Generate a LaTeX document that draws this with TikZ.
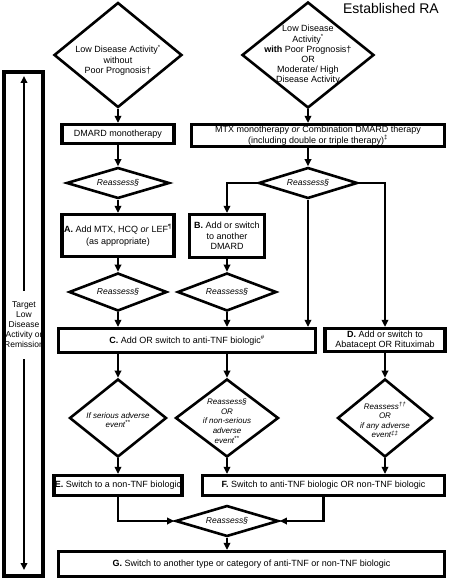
\documentclass[tikz,border=0pt]{standalone}
\usepackage{fontspec}
\setmainfont{Liberation Sans}
\usetikzlibrary{arrows.meta,positioning,shapes.geometric}

\begin{document}
\begin{tikzpicture}[
    x=1pt, y=-1pt,
    font=\fontsize{9}{10.5}\selectfont,
    box/.style={draw, line width=3.2pt, align=center, inner sep=1pt},
    dec/.style={diamond, draw, line width=2.6pt, inner sep=0pt},
    ttext/.style={align=center, font=\fontsize{9}{10.2}\selectfont},
    dtext/.style={align=center, font=\fontsize{8}{9.6}\selectfont\itshape},
    arr/.style={-{Triangle[length=7pt,width=6.5pt]}, line width=2.2pt},
]
\useasboundingbox (0,0) rectangle (448,580);

% Title
\node[anchor=base east, inner sep=0pt, font=\fontsize{14}{16}\selectfont] (title) at (439,13.5) {Established RA};

% Entry diamonds
\node[dec, minimum width=128pt, minimum height=105pt,
    label={[ttext, yshift=-5pt]center:{Low Disease Activity\textsuperscript{*}\\without\\Poor Prognosis†}}] (lowdis) at (118,55) {};
\node[dec, minimum width=132pt, minimum height=106pt,
    label={[ttext]center:{Low Disease\\Activity\textsuperscript{*}\\\textbf{with} Poor Prognosis†\\OR\\Moderate/ High\\Disease Activity}}] (modhigh) at (308,55) {};

% First therapy row
\node[box, minimum width=112pt, minimum height=19pt] (dmard) at (118,134) {DMARD monotherapy};
\node[box, minimum width=253pt, minimum height=22pt] (mtx) at (318,135.5) {MTX monotherapy \textit{or} Combination DMARD therapy\\(including double or triple therapy)\textsuperscript{‡}};

% Reassess after first therapy
\node[dec, minimum width=103pt, minimum height=31pt, label={[dtext, font=\fontsize{8.5}{10}\selectfont\itshape]center:Reassess§}] (reas1) at (118,183) {};
\node[dec, minimum width=99pt, minimum height=31pt, label={[dtext, font=\fontsize{8.5}{10}\selectfont\itshape]center:Reassess§}] (reas2) at (308,183) {};

% A and B
\node[box, minimum width=112pt, minimum height=42pt] (addA) at (118,235.5) {\textbf{A.} Add MTX, HCQ \textit{or} LEF\textsuperscript{¶}\\[1.5pt](as appropriate)};
\node[box, minimum width=75pt, minimum height=43pt] (addB) at (227,236) {\textbf{B.} Add or switch\\to another\\DMARD};

\node[dec, minimum width=98pt, minimum height=38pt, label={[dtext, font=\fontsize{8.5}{10}\selectfont\itshape]center:Reassess§}] (reas3) at (118,292) {};
\node[dec, minimum width=99pt, minimum height=38pt, label={[dtext, font=\fontsize{8.5}{10}\selectfont\itshape]center:Reassess§}] (reas4) at (227,292) {};

% C and D
\node[box, minimum width=257pt, minimum height=24pt] (antitnf) at (187,340.5) {\textbf{C.} Add OR switch to anti-TNF biologic\textsuperscript{\#}};
\node[box, minimum width=120pt, minimum height=23pt] (addD) at (385,340) {\textbf{D.} Add or switch to\\Abatacept OR Rituximab};

% Adverse event diamonds
\node[dec, minimum width=97pt, minimum height=78pt,
    label={[dtext, yshift=-2pt]center:{If serious adverse\\event\textsuperscript{**}}}] (serious) at (118,418) {};
\node[dec, minimum width=103pt, minimum height=78pt,
    label={[dtext, yshift=-3pt]center:{Reassess§\\OR\\if non-serious\\adverse\\event\textsuperscript{**}}}] (nonser) at (227,418) {};
\node[dec, minimum width=95pt, minimum height=78pt,
    label={[dtext, yshift=-2pt]center:{Reassess\textsuperscript{††}\\OR\\if any adverse\\event\textsuperscript{‡‡}}}] (anyae) at (385,418) {};

% E, F and G
\node[box, minimum width=128pt, minimum height=20pt] (swE) at (118,485.5) {\textbf{E.} Switch to a non-TNF biologic};
\node[box, minimum width=242pt, minimum height=20pt] (swF) at (323.5,485.5) {\textbf{F.} Switch to anti-TNF biologic OR non-TNF biologic};
\node[dec, minimum width=103pt, minimum height=31pt, label={[dtext, font=\fontsize{8.5}{10}\selectfont\itshape]center:Reassess§}] (reas5) at (227,521) {};
\node[box, minimum width=386pt, minimum height=25pt] (swG) at (251.5,564) {\textbf{G.} Switch to another type or category of anti-TNF or non-TNF biologic};

% Target rail
\node[draw, line width=3.2pt, minimum width=39pt, minimum height=504pt] (rail) at (23.5,324) {};
\node[align=center, inner sep=0pt, minimum height=68pt, font=\fontsize{8.5}{10}\selectfont] (target) at (24,325) {Target\\Low\\Disease\\Activity or\\Remission};
\coordinate (railtop) at (24,76);
\coordinate (railbot) at (24,570);
\draw[arr] (target) -- (railtop);
\draw[arr] (target) -- (railbot);

% Top connectors
\draw[arr] (lowdis.south) -- (dmard.north);
\draw[arr] (modhigh.south) -- (modhigh.south |- mtx.north);
\draw[arr] (dmard) -- (reas1);
\draw[arr] (mtx.south -| reas2.north) -- (reas2.north);
\draw[arr] (reas1) -- (addA);
\draw[arr] (reas2.west) -| (addB.north);
\draw[arr] (reas2.east) -| (addD.north);
\draw[arr] (reas2.south) -- (reas2.south |- antitnf.north);
\draw[arr] (addA) -- (reas3);
\draw[arr] (addB) -- (reas4);
\draw[arr] (reas3.south) -- (reas3.south |- antitnf.north);
\draw[arr] (reas4.south) -- (reas4.south |- antitnf.north);

% Lower connectors
\draw[arr] (antitnf.south -| serious.north) -- (serious.north);
\draw[arr] (antitnf.south -| nonser.north) -- (nonser.north);
\draw[arr] (addD.south) -- (anyae.north);
\draw[arr] (serious.south) -- (swE.north);
\draw[arr] (nonser.south) -- (nonser.south |- swF.north);
\draw[arr] (anyae.south) -- (anyae.south |- swF.north);
\draw[arr] (swE.south) |- (reas5.west);
\draw[arr] (swF.south) |- (reas5.east);
\draw[arr] (reas5.south) -- (reas5.south |- swG.north);
\end{tikzpicture}
\end{document}
